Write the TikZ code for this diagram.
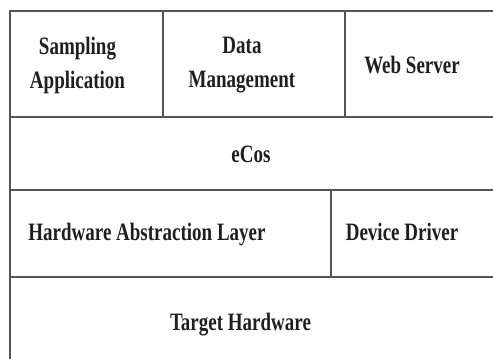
\documentclass[tikz,border=0pt]{standalone}
\usepackage{fontspec}
\setmainfont{Liberation Serif}[FakeStretch=0.76]
\definecolor{linegray}{RGB}{85,85,85}
\definecolor{txt}{RGB}{30,30,35}
\begin{document}
\begin{tikzpicture}[x=1pt,y=-1pt,
  grid/.style={draw=linegray,line width=1.8pt},
  lbl/.style={text=txt,font=\fontsize{25}{34}\selectfont\bfseries,inner sep=0pt,align=center}]
\useasboundingbox (0,0) rectangle (493,359);
\clip (0,0) rectangle (493,359);
% frame and dividers
\draw[grid] (10,11) rectangle (520,400);
\draw[grid] (10,117) -- (520,117);
\draw[grid] (10,190) -- (520,190);
\draw[grid] (10,277) -- (520,277);
\draw[grid] (163,11) -- (163,117);
\draw[grid] (345,11) -- (345,117);
\draw[grid] (331,190) -- (331,277);
% labels
\node[lbl] (samp) at (77.5,65) {Sampling\\Application};
\node[lbl] (data) at (242,65) {Data\\Management};
\node[lbl,anchor=base] (web) at (412,73) {Web Server};
\node[lbl,anchor=base] (ecos) at (251,162) {eCos};
\node[lbl,anchor=base] (hal) at (147,240) {Hardware Abstraction Layer};
\node[lbl,anchor=base] (dd) at (402,240) {Device Driver};
\node[lbl,anchor=base] (th) at (240.5,330) {Target Hardware};
\end{tikzpicture}
\end{document}
